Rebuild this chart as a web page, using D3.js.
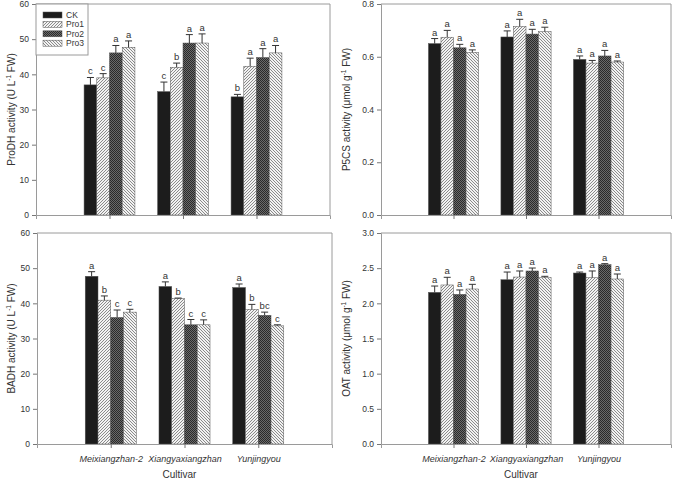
<!DOCTYPE html>
<html><head><meta charset="utf-8">
<script src="https://cdn.jsdelivr.net/npm/d3@7"></script>
<style>body{margin:0;background:#fff}svg{display:block;font-family:"Liberation Sans",Arial,sans-serif}</style>
</head><body><svg id="c" width="676" height="480"></svg>
<script>
const cultivars = ["Meixiangzhan-2", "Xiangyaxiangzhan", "Yunjingyou"];
const treatments = ["CK", "Pro1", "Pro2", "Pro3"];

// ProDH activity (U L-1 FW): rows = cultivars, cols = treatments
const prodhMean = [[37.0, 39.0, 46.1, 47.7], [35.1, 42.0, 48.9, 48.9], [33.6, 42.3, 44.8, 46.1]];
const prodhErr  = [[2.1, 1.2, 2.1, 1.8], [2.7, 1.2, 2.4, 2.6], [0.7, 2.3, 2.5, 2.1]];
const prodhSig  = [["c","c","a","a"], ["c","b","a","a"], ["b","a","a","a"]];

// P5CS activity (umol g-1 FW)
const p5csMean = [[0.650, 0.674, 0.634, 0.617], [0.675, 0.715, 0.686, 0.695], [0.590, 0.576, 0.603, 0.580]];
const p5csErr  = [[0.019, 0.026, 0.013, 0.009], [0.023, 0.027, 0.018, 0.017], [0.013, 0.010, 0.021, 0.004]];
const p5csSig  = [["a","a","a","a"], ["a","a","a","a"], ["a","a","a","a"]];

// BADH activity (U L-1 FW)
const badhMean = [[47.7, 40.9, 36.0, 37.5], [44.8, 41.4, 33.9, 33.9], [44.5, 38.3, 36.6, 33.6]];
const badhErr  = [[1.3, 1.2, 2.1, 0.8], [1.3, 0.1, 1.5, 1.4], [1.0, 1.4, 0.9, 0.3]];
const badhSig  = [["a","b","c","c"], ["a","b","c","c"], ["a","b","bc","c"]];

// OAT activity (umol g-1 FW)
const oatMean = [[2.156, 2.261, 2.128, 2.204], [2.336, 2.374, 2.460, 2.365], [2.431, 2.365, 2.550, 2.346]];
const oatErr  = [[0.090, 0.109, 0.062, 0.066], [0.109, 0.086, 0.042, 0.019], [0.014, 0.095, 0.014, 0.071]];
const oatSig  = [["a","a","a","a"], ["a","a","a","a"], ["a","a","a","a"]];

const yTicksTL = [0, 10, 20, 30, 40, 50, 60];
const yTicksTR = [0, 0.2, 0.4, 0.6, 0.8];
const yTicksBL = [0, 10, 20, 30, 40, 50, 60];
const yTicksBR = [0, 0.5, 1.0, 1.5, 2.0, 2.5, 3.0];

const svg = d3.select("#c");
const defs = svg.append("defs");

// patterns
function hatch(id, dir, bg, fg, sw) {
  const p = defs.append("pattern").attr("id", id).attr("patternUnits", "userSpaceOnUse")
    .attr("width", 3).attr("height", 3);
  p.append("rect").attr("width", 3).attr("height", 3).attr("fill", bg);
  if (dir > 0) {
    p.append("path").attr("d", "M-1,1 L1,-1 M0,3 L3,0 M2,4 L4,2").attr("stroke", fg).attr("stroke-width", sw);
  } else {
    p.append("path").attr("d", "M-1,2 L1,4 M0,0 L3,3 M2,-1 L4,1").attr("stroke", fg).attr("stroke-width", sw);
  }
}
hatch("p1", 1, "#f2f2f2", "#8a8a8a", 1);
hatch("p3", -1, "#f2f2f2", "#8a8a8a", 1);
{
  const p = defs.append("pattern").attr("id", "p2").attr("patternUnits", "userSpaceOnUse")
    .attr("width", 2).attr("height", 2);
  p.append("rect").attr("width", 2).attr("height", 2).attr("fill", "#6a6a6a");
  p.append("rect").attr("width", 1).attr("height", 1).attr("fill", "#2a2a2a");
  p.append("rect").attr("x", 1).attr("y", 1).attr("width", 1).attr("height", 1).attr("fill", "#2a2a2a");
}
const fills = ["#1c1c1c", "url(#p1)", "url(#p2)", "url(#p3)"];

function panel(cfg) {
  const g = svg.append("g");
  const x = d3.scaleLinear().domain([0, 4]).range([cfg.left, cfg.right]);
  const y = d3.scaleLinear().domain([0, cfg.ymax]).range([cfg.bottom, cfg.top]);
  const step = x(1) - x(0);
  const bw = step * 0.173;

  // frame
  g.append("path").attr("d", `M${cfg.left},${cfg.top}H${cfg.right}V${cfg.bottom}`)
    .attr("fill", "none").attr("stroke", "#9a9a9a").attr("stroke-width", 1);

  // bars
  cultivars.forEach((c, ci) => {
    treatments.forEach((t, ti) => {
      const v = cfg.mean[ci][ti], e = cfg.err[ci][ti];
      const x0 = x(ci + 1) + (ti - 2) * bw;
      g.append("rect").attr("x", x0).attr("y", y(v)).attr("width", bw).attr("height", y(0) - y(v))
        .attr("fill", fills[ti]).attr("stroke", "#555").attr("stroke-width", 0.5);
      const cx = x0 + bw / 2;
      g.append("path").attr("d", `M${cx},${y(v)}V${y(v + e)}M${cx - 3.5},${y(v + e)}H${cx + 3.5}`)
        .attr("stroke", "#333").attr("stroke-width", 1).attr("fill", "none");
      g.append("text").attr("x", cx).attr("y", y(v + e) - 3).attr("text-anchor", "middle")
        .attr("font-size", 9.5).attr("fill", "#333").text(cfg.sig[ci][ti]);
    });
  });

  // y axis
  const ya = d3.axisLeft(y).tickValues(cfg.ticks).tickSize(4).tickPadding(3).tickFormat(cfg.fmt);
  const yg = g.append("g").attr("transform", `translate(${cfg.left},0)`).call(ya);
  yg.select(".domain").attr("stroke", "#9a9a9a");
  yg.selectAll(".tick line").attr("stroke", "#777");
  yg.selectAll("text").attr("font-size", 8.5).attr("fill", "#333").attr("font-family", "Liberation Sans, Arial, sans-serif");

  // x axis
  const xa = d3.axisBottom(x).tickValues([1, 2, 3]).tickSize(4).tickFormat(d => cfg.showCat ? cultivars[d - 1] : "");
  const xg = g.append("g").attr("transform", `translate(0,${cfg.bottom})`).call(xa);
  xg.select(".domain").attr("stroke", "#9a9a9a");
  xg.selectAll(".tick line").attr("stroke", "#777");
  xg.selectAll("text").attr("font-size", 9).attr("fill", "#333").attr("font-style", "italic")
    .attr("dy", "1.2em").attr("font-family", "Liberation Sans, Arial, sans-serif");

  if (cfg.showCat) {
    g.append("text").attr("x", (cfg.left + cfg.right) / 2 - 5).attr("y", cfg.bottom + 34)
      .attr("text-anchor", "middle").attr("font-size", 10).attr("fill", "#333").text("Cultivar");
  }

  // y title
  const tt = g.append("text").attr("transform", `translate(${cfg.titleX},${(cfg.top + cfg.bottom) / 2}) rotate(-90)`)
    .attr("text-anchor", "middle").attr("font-size", 10).attr("fill", "#333");
  tt.append("tspan").text(cfg.title[0]);
  tt.append("tspan").attr("font-size", 6.5).attr("dy", -4).text(cfg.title[1]);
  tt.append("tspan").attr("dy", 4).text(cfg.title[2]);
  return {x, y, g};
}

panel({left: 36, right: 330, top: 4, bottom: 215, ymax: 60, ticks: yTicksTL, fmt: d3.format("d"),
  mean: prodhMean, err: prodhErr, sig: prodhSig, showCat: false, titleX: 15,
  title: ["ProDH activity (U L", "-1", " FW)"]});
panel({left: 381, right: 671, top: 4, bottom: 215, ymax: 0.8, ticks: yTicksTR, fmt: d3.format(".1f"),
  mean: p5csMean, err: p5csErr, sig: p5csSig, showCat: false, titleX: 350,
  title: ["P5CS activity (\u03bcmol g", "-1", " FW)"]});
panel({left: 37, right: 332, top: 233, bottom: 444, ymax: 60, ticks: yTicksBL, fmt: d3.format("d"),
  mean: badhMean, err: badhErr, sig: badhSig, showCat: true, titleX: 15,
  title: ["BADH activity (U L", "-1", " FW)"]});
panel({left: 381, right: 671, top: 233, bottom: 444, ymax: 3, ticks: yTicksBR, fmt: d3.format(".1f"),
  mean: oatMean, err: oatErr, sig: oatSig, showCat: true, titleX: 350,
  title: ["OAT activity (\u03bcmol g", "-1", " FW)"]});

// legend
const lg = svg.append("g");
lg.append("rect").attr("x", 36).attr("y", 4).attr("width", 52).attr("height", 51)
  .attr("fill", "#fff").attr("stroke", "#9a9a9a").attr("stroke-width", 1);
treatments.forEach((t, i) => {
  const yy = 12 + i * 9.4;
  lg.append("rect").attr("x", 43).attr("y", yy).attr("width", 19).attr("height", 6)
    .attr("fill", fills[i]).attr("stroke", "#555").attr("stroke-width", 0.5);
  lg.append("text").attr("x", 66).attr("y", yy + 6).attr("font-size", 8.5).attr("fill", "#333").text(t);
});
</script></body></html>
